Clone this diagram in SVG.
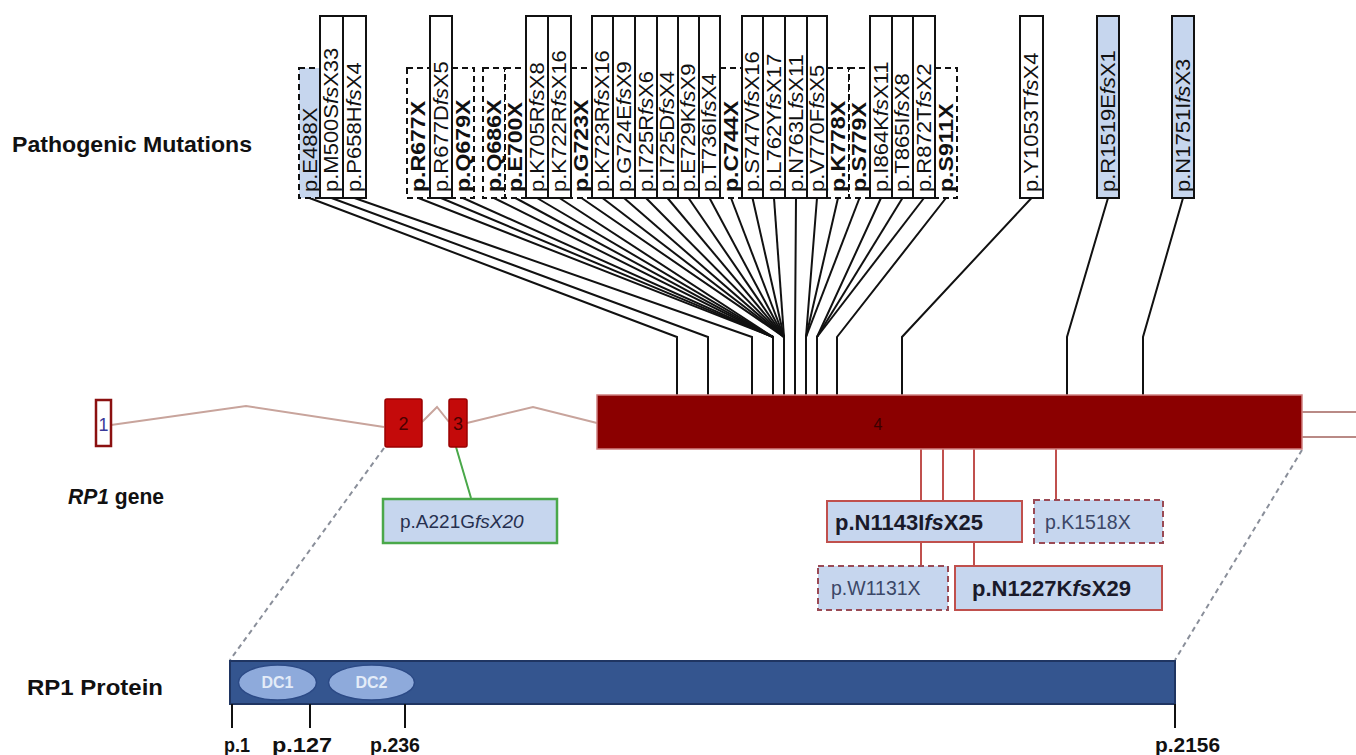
<svg xmlns="http://www.w3.org/2000/svg" width="1356" height="755" viewBox="0 0 1356 755">
<style>
text{font-family:"Liberation Sans",Arial,sans-serif;}
.lbl{font-size:20px;fill:#111;}
.lblb{font-size:21px;font-weight:bold;fill:#111;}
.sol{fill:#fff;stroke:#111;stroke-width:2;}
.solb{fill:#c6d6ee;stroke:#111;stroke-width:2;}
.dsh{fill:#fff;stroke:#111;stroke-width:2;stroke-dasharray:6 4;}
.dshb{fill:#c6d6ee;stroke:#111;stroke-width:2;stroke-dasharray:6 4;}
.con path{fill:none;stroke:#111;stroke-width:2;}
.rc{stroke:#c0504d;stroke-width:2;fill:none;}
.title{font-size:22px;font-weight:bold;fill:#111;}
.pos{font-size:21px;font-weight:bold;fill:#111;}
.rbox{fill:#c6d6ee;stroke:#c0504d;stroke-width:2;}
.rboxd{fill:#c6d6ee;stroke:#9a4a55;stroke-width:2;stroke-dasharray:6 4;}
</style>

<text class="title" x="12" y="152" textLength="240" lengthAdjust="spacingAndGlyphs">Pathogenic Mutations</text>
<text class="title" x="68" y="504" textLength="96" lengthAdjust="spacingAndGlyphs"><tspan font-style="italic">RP1</tspan> gene</text>
<text class="title" x="27" y="695" textLength="136" lengthAdjust="spacingAndGlyphs">RP1 Protein</text>

<!-- connectors -->
<g id="connectors" class="con">
<path d="M309.5 198 L677 337 L677 395"/>
<path d="M331.5 198 L708 337 L708 395"/>
<path d="M354.5 198 L752 337 L752 395"/>
<path d="M418.5 198 L773 337 L773 395"/>
<path d="M441 198 L773 337"/>
<path d="M463 198 L773 337"/>
<path d="M494 198 L773 337"/>
<path d="M515.5 198 L773 337"/>
<path d="M537 198 L773 337"/>
<path d="M559.5 198 L773 337"/>
<path d="M581.5 198 L784 337 L784 395"/>
<path d="M602.5 198 L784 337"/>
<path d="M624 198 L784 337"/>
<path d="M646 198 L784 337"/>
<path d="M667.5 198 L784 337"/>
<path d="M688.5 198 L784 337"/>
<path d="M709.5 198 L784 337"/>
<path d="M731 198 L784 337"/>
<path d="M752.5 198 L784 337"/>
<path d="M774 198 L784 337"/>
<path d="M796 198 L795 337 L795 395"/>
<path d="M817 198 L806 337 L806 395"/>
<path d="M838 198 L806 337"/>
<path d="M859.5 198 L806 337"/>
<path d="M881 198 L817 337 L817 395"/>
<path d="M902.5 198 L817 337"/>
<path d="M924 198 L817 337"/>
<path d="M946 198 L837 337 L837 395"/>
<path d="M1031.5 198 L902 337 L902 395"/>
<path d="M1108 198 L1067 337 L1067 395"/>
<path d="M1183 198 L1143 337 L1143 395"/>
<!-- red connectors below exon 4 -->
<line class="rc" x1="921" y1="449" x2="921" y2="501"/>
<line class="rc" x1="943" y1="449" x2="943" y2="501"/>
<line class="rc" x1="974" y1="449" x2="974" y2="501"/>
<line class="rc" x1="1056" y1="449" x2="1056" y2="500"/>
<line class="rc" x1="921" y1="542" x2="921" y2="566"/>
<line class="rc" x1="974" y1="542" x2="974" y2="566"/>
<!-- green connector -->
<line x1="456" y1="447" x2="471" y2="498" stroke="#4aa84a" stroke-width="2"/>
<!-- zoom dashed lines -->
<line x1="384" y1="448" x2="230" y2="660" stroke="#8a8f9a" stroke-width="2" stroke-dasharray="5 4"/>
<line x1="1302" y1="450" x2="1175" y2="660" stroke="#8a8f9a" stroke-width="2" stroke-dasharray="5 4"/>
</g>

<!-- top mutation boxes: dashed first -->
<g id="m-E488X"><rect class="dshb" x="299" y="68" width="21" height="130"/><text class="lbl" transform="translate(316.5,192) rotate(-90) scale(1.1,1)">p.E488X</text></g>
<g id="m-R677X"><rect class="dsh" x="407" y="68" width="23" height="130"/><text class="lblb" transform="translate(424.5,192) rotate(-90) scale(1.1,1)">p.R677X</text></g>
<g id="m-Q679X"><rect class="dsh" x="452" y="68" width="22" height="130"/><text class="lblb" transform="translate(469.5,192) rotate(-90) scale(1.1,1)">p.Q679X</text></g>
<g id="m-Q686X"><rect class="dsh" x="483" y="68" width="22" height="130"/><text class="lblb" transform="translate(500.5,192) rotate(-90) scale(1.1,1)">p.Q686X</text></g>
<g id="m-E700X"><rect class="dsh" x="505" y="68" width="21" height="130"/><text class="lblb" transform="translate(522,192) rotate(-90) scale(1.1,1)">p.E700X</text></g>
<g id="m-G723X"><rect class="dsh" x="571" y="68" width="21" height="130"/><text class="lblb" transform="translate(588,192) rotate(-90) scale(1.1,1)">p.G723X</text></g>
<g id="m-C744X"><rect class="dsh" x="720" y="68" width="22" height="130"/><text class="lblb" transform="translate(737.5,192) rotate(-90) scale(1.1,1)">p.C744X</text></g>
<g id="m-K778X"><rect class="dsh" x="827" y="68" width="22" height="130"/><text class="lblb" transform="translate(844.5,192) rotate(-90) scale(1.1,1)">p.K778X</text></g>
<g id="m-S779X"><rect class="dsh" x="849" y="68" width="21" height="130"/><text class="lblb" transform="translate(866,192) rotate(-90) scale(1.1,1)">p.S779X</text></g>
<g id="m-S911X"><rect class="dsh" x="935" y="68" width="22" height="130"/><text class="lblb" transform="translate(952.5,192) rotate(-90) scale(1.1,1)">p.S911X</text></g>

<g id="m-M500S"><rect class="sol" x="320" y="16" width="23" height="182"/><text class="lbl" transform="translate(338,192) rotate(-90) scale(1.1,1)">p.M500S<tspan font-style="italic">fs</tspan>X33</text></g>
<g id="m-P658H"><rect class="sol" x="343" y="16" width="23" height="182"/><text class="lbl" transform="translate(361,192) rotate(-90) scale(1.1,1)">p.P658H<tspan font-style="italic">fs</tspan>X4</text></g>
<g id="m-R677D"><rect class="sol" x="430" y="16" width="22" height="182"/><text class="lbl" transform="translate(447.5,192) rotate(-90) scale(1.1,1)">p.R677D<tspan font-style="italic">fs</tspan>X5</text></g>
<g id="m-K705R"><rect class="sol" x="526" y="16" width="22" height="182"/><text class="lbl" transform="translate(543.5,192) rotate(-90) scale(1.1,1)">p.K705R<tspan font-style="italic">fs</tspan>X8</text></g>
<g id="m-K722R"><rect class="sol" x="548" y="16" width="23" height="182"/><text class="lbl" transform="translate(566,192) rotate(-90) scale(1.1,1)">p.K722R<tspan font-style="italic">fs</tspan>X16</text></g>
<g id="m-K723R"><rect class="sol" x="592" y="16" width="21" height="182"/><text class="lbl" transform="translate(609,192) rotate(-90) scale(1.1,1)">p.K723R<tspan font-style="italic">fs</tspan>X16</text></g>
<g id="m-G724E"><rect class="sol" x="613" y="16" width="22" height="182"/><text class="lbl" transform="translate(630.5,192) rotate(-90) scale(1.1,1)">p.G724E<tspan font-style="italic">fs</tspan>X9</text></g>
<g id="m-I725R"><rect class="sol" x="635" y="16" width="22" height="182"/><text class="lbl" transform="translate(652.5,192) rotate(-90) scale(1.1,1)">p.I725R<tspan font-style="italic">fs</tspan>X6</text></g>
<g id="m-I725D"><rect class="sol" x="657" y="16" width="21" height="182"/><text class="lbl" transform="translate(674,192) rotate(-90) scale(1.1,1)">p.I725D<tspan font-style="italic">fs</tspan>X4</text></g>
<g id="m-E729K"><rect class="sol" x="678" y="16" width="21" height="182"/><text class="lbl" transform="translate(695,192) rotate(-90) scale(1.1,1)">p.E729K<tspan font-style="italic">fs</tspan>X9</text></g>
<g id="m-T736I"><rect class="sol" x="699" y="16" width="21" height="182"/><text class="lbl" transform="translate(716,192) rotate(-90) scale(1.1,1)">p.T736I<tspan font-style="italic">fs</tspan>X4</text></g>
<g id="m-S747V"><rect class="sol" x="742" y="16" width="21" height="182"/><text class="lbl" transform="translate(759,192) rotate(-90) scale(1.1,1)">p.S747V<tspan font-style="italic">fs</tspan>X16</text></g>
<g id="m-L762Y"><rect class="sol" x="763" y="16" width="22" height="182"/><text class="lbl" transform="translate(780.5,192) rotate(-90) scale(1.1,1)">p.L762Y<tspan font-style="italic">fs</tspan>X17</text></g>
<g id="m-N763L"><rect class="sol" x="785" y="16" width="22" height="182"/><text class="lbl" transform="translate(802.5,192) rotate(-90) scale(1.1,1)">p.N763L<tspan font-style="italic">fs</tspan>X11</text></g>
<g id="m-V770F"><rect class="sol" x="807" y="16" width="20" height="182"/><text class="lbl" transform="translate(823.5,192) rotate(-90) scale(1.1,1)">p.V770F<tspan font-style="italic">fs</tspan>X5</text></g>
<g id="m-I864K"><rect class="sol" x="870" y="16" width="22" height="182"/><text class="lbl" transform="translate(887.5,192) rotate(-90) scale(1.1,1)">p.I864K<tspan font-style="italic">fs</tspan>X11</text></g>
<g id="m-T865I"><rect class="sol" x="892" y="16" width="21" height="182"/><text class="lbl" transform="translate(909,192) rotate(-90) scale(1.1,1)">p.T865I<tspan font-style="italic">fs</tspan>X8</text></g>
<g id="m-R872T"><rect class="sol" x="913" y="16" width="22" height="182"/><text class="lbl" transform="translate(930.5,192) rotate(-90) scale(1.1,1)">p.R872T<tspan font-style="italic">fs</tspan>X2</text></g>
<g id="m-Y1053T"><rect class="sol" x="1020" y="16" width="23" height="182"/><text class="lbl" transform="translate(1038,192) rotate(-90) scale(1.1,1)">p.Y1053T<tspan font-style="italic">fs</tspan>X4</text></g>
<g id="m-R1519E"><rect class="solb" x="1097" y="16" width="22" height="182"/><text class="lbl" transform="translate(1114.5,192) rotate(-90) scale(1.1,1)">p.R1519E<tspan font-style="italic">fs</tspan>X1</text></g>
<g id="m-N1751I"><rect class="solb" x="1172" y="16" width="22" height="182"/><text class="lbl" transform="translate(1189.5,192) rotate(-90) scale(1.1,1)">p.N1751I<tspan font-style="italic">fs</tspan>X3</text></g>

<!-- gene -->
<g id="introns" fill="none" stroke="#c8a49c" stroke-width="2">
<polyline points="111,425 246,406 384,427"/>
<polyline points="422,422 437,407 449,422"/>
<polyline points="467,423 533,407 597,423"/>
<line x1="1302" y1="412" x2="1356" y2="412" stroke="#b98a86"/>
<line x1="1302" y1="437" x2="1356" y2="437" stroke="#b98a86"/>
</g>
<g id="exon1"><rect x="96" y="400" width="15" height="46" fill="#fff" stroke="#8b1010" stroke-width="2.5"/><text x="103.5" y="431" font-size="18" fill="#3a3a9a" text-anchor="middle">1</text></g>
<g id="exon2"><rect x="385" y="399" width="37" height="48" rx="2" fill="#c40a0a" stroke="#9a0000" stroke-width="1.5"/><text x="403.5" y="430" font-size="18" fill="#4a0000" text-anchor="middle">2</text></g>
<g id="exon3"><rect x="449" y="399" width="18" height="48" rx="2" fill="#c40a0a" stroke="#9a0000" stroke-width="1.5"/><text x="458" y="430" font-size="18" fill="#4a0000" text-anchor="middle">3</text></g>
<g id="exon4"><rect x="597" y="395" width="705" height="54" fill="#8b0000" stroke="#d08080" stroke-width="1.5"/><text x="878" y="430" font-size="16" fill="#3a0000" text-anchor="middle">4</text></g>

<!-- below-exon mutation boxes -->
<g id="m-A221G"><rect x="383" y="499" width="174" height="44" fill="#c6d6ee" stroke="#4aa84a" stroke-width="2.5"/><text x="400" y="528" font-size="19" fill="#26304f">p.A221G<tspan font-style="italic">fsX20</tspan></text></g>
<g id="m-N1143I"><rect class="rbox" x="827" y="501" width="195" height="41"/><text x="835" y="530" font-size="22" font-weight="bold" fill="#1a1a2a">p.N1143I<tspan font-style="italic">fs</tspan>X25</text></g>
<g id="m-K1518X"><rect class="rboxd" x="1034" y="500" width="129" height="43"/><text x="1045" y="529" font-size="19.5" fill="#3b4767">p.K1518X</text></g>
<g id="m-W1131X"><rect class="rboxd" x="818" y="566" width="130" height="44"/><text x="831" y="595" font-size="19.5" fill="#3b4767">p.W1131X</text></g>
<g id="m-N1227K"><rect class="rbox" x="955" y="566" width="207" height="44"/><text x="972" y="596" font-size="22" font-weight="bold" fill="#1a1a2a">p.N1227K<tspan font-style="italic">fs</tspan>X29</text></g>

<!-- protein -->
<g id="protein">
<rect x="230" y="661" width="945" height="43" fill="#34558f" stroke="#1f3562" stroke-width="2"/>
<ellipse cx="277.5" cy="682.5" rx="39" ry="17.5" fill="#8eaadb" stroke="#2c4a86" stroke-width="1.5"/>
<text x="277.5" y="688" font-size="16" font-weight="bold" fill="#e4ecf8" text-anchor="middle">DC1</text>
<ellipse cx="371.5" cy="682.5" rx="43" ry="17.5" fill="#8eaadb" stroke="#2c4a86" stroke-width="1.5"/>
<text x="371.5" y="688" font-size="16" font-weight="bold" fill="#e4ecf8" text-anchor="middle">DC2</text>
</g>
<g id="ticks" stroke="#111" stroke-width="2">
<line x1="232" y1="704" x2="232" y2="728"/>
<line x1="310" y1="704" x2="310" y2="728"/>
<line x1="405" y1="704" x2="405" y2="728"/>
<line x1="1175" y1="704" x2="1175" y2="728"/>
</g>
<text class="pos" x="224" y="752" textLength="26" lengthAdjust="spacingAndGlyphs">p.1</text>
<text class="pos" x="272" y="752" textLength="60" lengthAdjust="spacingAndGlyphs">p.127</text>
<text class="pos" x="370" y="752" textLength="50" lengthAdjust="spacingAndGlyphs">p.236</text>
<text class="pos" x="1155" y="752" textLength="65" lengthAdjust="spacingAndGlyphs">p.2156</text>
</svg>
